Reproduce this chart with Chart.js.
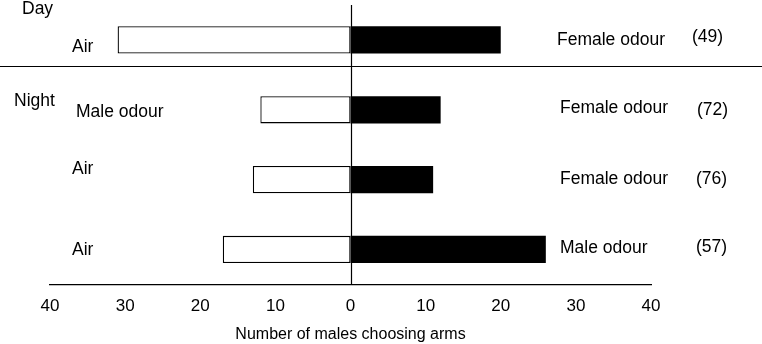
<!DOCTYPE html>
<html>
<head>
<meta charset="utf-8">
<script src="https://cdn.jsdelivr.net/npm/chart.js@4/dist/chart.umd.min.js"></script>
<style>
  html, body { margin: 0; padding: 0; background: #fff; }
  #wrap { width: 762px; height: 344px; position: relative; }
</style>
</head>
<body>
<div id="wrap"><canvas id="c"></canvas></div>
<script>
// ---- data ----
const categories = ['Day', 'Night 1', 'Night 2', 'Night 3'];
const groupLabels = ['Day', 'Night'];
const leftLabels = ['Air', 'Male odour', 'Air', 'Air'];
const rightLabels = ['Female odour', 'Female odour', 'Female odour', 'Male odour'];
const totals = ['(49)', '(72)', '(76)', '(57)'];
const leftValues = [31, 12, 13, 17];
const rightValues = [20, 12, 11, 26];
const tickValues = [-40, -30, -20, -10, 0, 10, 20, 30, 40];
const axisTitle = 'Number of males choosing arms';

const FONT = '"Liberation Sans", Arial, Helvetica, sans-serif';

const textPlugin = {
  id: 'textPlugin',
  afterDraw(chart) {
    const ctx = chart.ctx;
    const x = chart.scales.x, y = chart.scales.y;
    const ca = chart.chartArea;
    ctx.save();
    // zero line
    ctx.strokeStyle = '#000';
    ctx.lineWidth = 1.2;
    const x0 = Math.round(x.getPixelForValue(0)) + 0.5;
    ctx.beginPath();
    ctx.moveTo(x0, ca.top);
    ctx.lineTo(x0, ca.bottom);
    ctx.stroke();
    // separator between Day and Night
    const y0 = y.getPixelForValue(0), y1 = y.getPixelForValue(1);
    const ys = Math.round(y0 + (y1 - y0) * 0.375) + 0.5;
    ctx.beginPath();
    ctx.moveTo(0, ys);
    ctx.lineTo(chart.width, ys);
    ctx.stroke();

    ctx.fillStyle = '#000';
    ctx.font = '17.5px ' + FONT;
    ctx.textBaseline = 'middle';
    ctx.textAlign = 'left';
    // group labels
    ctx.fillText(groupLabels[0], 22, y0 - 31);
    ctx.fillText(groupLabels[1], 14, y1 - 9);
    // left / right labels
    const leftX = [72, 76, 72, 72];
    const leftDy = [7, 2, -10, 1];
    const rightX = [557, 560, 560, 560];
    const rightDy = [0, -2, 0, -1];
    const totX = [692, 697, 696, 696];
    const totDy = [-3, 0, 0, -2];
    for (let i = 0; i < categories.length; i++) {
      const yc = y.getPixelForValue(i);
      ctx.fillText(leftLabels[i], leftX[i], yc + leftDy[i]);
      ctx.fillText(rightLabels[i], rightX[i], yc + rightDy[i]);
      ctx.fillText(totals[i], totX[i], yc + totDy[i]);
    }
    ctx.restore();
  }
};

new Chart(document.getElementById('c'), {
  type: 'bar',
  data: {
    labels: categories,
    datasets: [
      {
        label: 'Left arm',
        data: leftValues.map(v => -v),
        backgroundColor: '#ffffff',
        borderColor: '#000000',
        borderWidth: 1.3,
        borderSkipped: false,
        categoryPercentage: 1,
        barPercentage: 0.39
      },
      {
        label: 'Right arm',
        data: rightValues,
        backgroundColor: '#000000',
        borderColor: '#000000',
        borderWidth: 0,
        categoryPercentage: 1,
        barPercentage: 0.39
      }
    ]
  },
  options: {
    indexAxis: 'y',
    responsive: true,
    maintainAspectRatio: false,
    animation: false,
    layout: { padding: { left: 50, right: 111, top: 5, bottom: 0 } },
    plugins: { legend: { display: false }, tooltip: { enabled: false } },
    scales: {
      x: {
        type: 'linear',
        min: -40, max: 40,
        afterBuildTicks(scale) { scale.ticks = tickValues.map(v => ({ value: v })); },
        grid: { display: false, drawTicks: false },
        border: { display: true, color: '#000', width: 1.3 },
        ticks: {
          padding: 12,
          color: '#000',
          font: { family: FONT, size: 17 },
          maxRotation: 0,
          callback: v => String(Math.abs(v))
        },
        title: {
          display: true,
          text: axisTitle,
          color: '#000',
          font: { family: FONT, size: 16 },
          padding: { top: -4, bottom: 0 }
        }
      },
      y: {
        type: 'category',
        stacked: true,
        display: false,
        offset: true
      }
    }
  },
  plugins: [textPlugin]
});
</script>
</body>
</html>
